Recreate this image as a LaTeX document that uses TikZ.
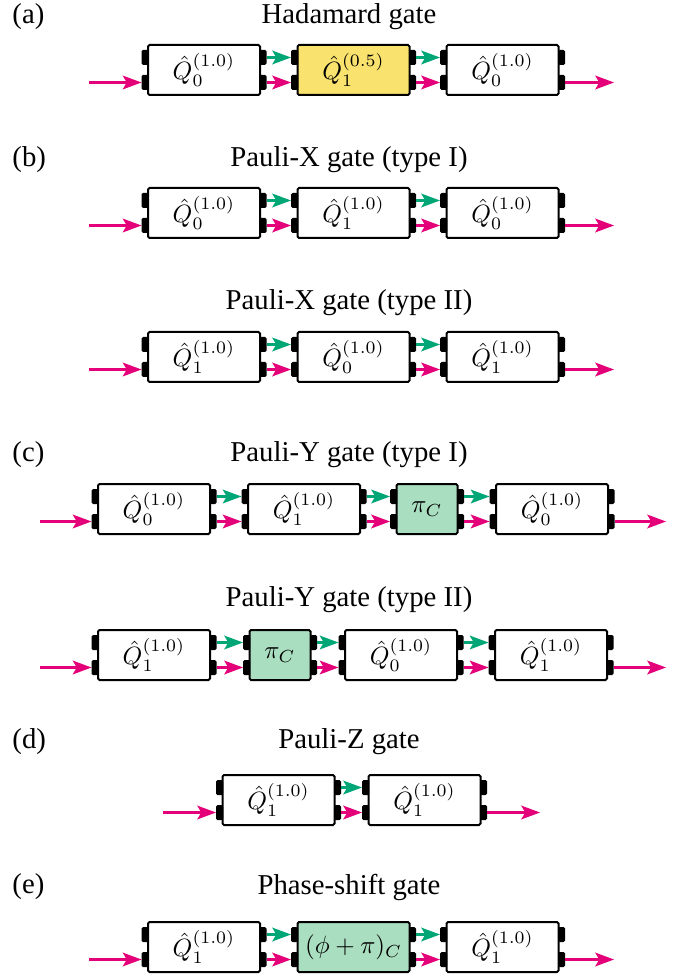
\documentclass[tikz,border=0pt]{standalone}
\usepackage[no-math]{fontspec}
\setmainfont{Liberation Serif}
\usetikzlibrary{calc,arrows.meta}
\definecolor{qgreen}{RGB}{0,166,118}
\definecolor{qmag}{RGB}{228,0,120}
\definecolor{qyellow}{RGB}{249,227,110}
\definecolor{qgfill}{RGB}{170,222,192}
\newcommand\mkgate[6]{%
  \node[gatebox, minimum width=#4*0.4pt, #5] (#1) at (#2,#3) {#6};
  \node[tab] (#1-lu) at ($(#1.west)+(-2,-12.5)$) {};
  \node[tab] (#1-ld) at ($(#1.west)+(-2,12.5)$) {};
  \node[tab] (#1-ru) at ($(#1.east)+(2,-12.5)$) {};
  \node[tab] (#1-rd) at ($(#1.east)+(2,12.5)$) {};
}
\newcommand\link[2]{%
  \draw[garr] (#1-ru) -- (#2-lu);
  \draw[marr] (#1-rd) -- (#2-ld);
}
\tikzset{
  gatebox/.style={draw, line width=0.8pt, rounded corners=0.6pt, minimum height=20pt, inner sep=0pt, fill=white},
  tab/.style={fill=black, minimum width=2.8pt, minimum height=6pt, inner sep=0pt, outer sep=0pt, rounded corners=0.6pt},
  garr/.style={qgreen, line width=0.85pt, -{Stealth[length=7.5pt,width=5.5pt,inset=1.6pt]}},
  marr/.style={qmag, line width=0.85pt, -{Stealth[length=7.5pt,width=5.5pt,inset=1.6pt]}},
  ttl/.style={font=\fontsize{11.5}{14}\selectfont, inner sep=0pt},
  lbl/.style={font=\fontsize{11.5}{14}\selectfont, inner sep=0pt, anchor=west},
}
\begin{document}
\begin{tikzpicture}[x=0.4pt,y=-0.4pt]
\useasboundingbox (0,0) rectangle (697,977);
% (a)
\node[lbl] (la) at (12,17) {(a)};
\node[ttl] (ta) at (349,17) {Hadamard gate};
\mkgate{a1}{204}{70}{112}{}{$\hat{Q}_0^{(1.0)}$}
\mkgate{a2}{353.5}{70}{112}{fill=qyellow}{$\hat{Q}_1^{(0.5)}$}
\mkgate{a3}{502.5}{70}{112}{}{$\hat{Q}_0^{(1.0)}$}
\coordinate (ain) at (89,82.5);
\coordinate (aout) at (614,82.5);
\draw[marr] (ain) -- (a1-ld);
\link{a1}{a2}\link{a2}{a3}
\draw[marr] (a3-rd) -- (aout);
% (b) type I
\node[lbl] (lb) at (12,160) {(b)};
\node[ttl] (tb) at (349,160) {Pauli-X gate (type I)};
\mkgate{b1}{204}{213}{112}{}{$\hat{Q}_0^{(1.0)}$}
\mkgate{b2}{353.5}{213}{112}{}{$\hat{Q}_1^{(1.0)}$}
\mkgate{b3}{502.5}{213}{112}{}{$\hat{Q}_0^{(1.0)}$}
\coordinate (bin) at (89,225.5);
\coordinate (bout) at (614,225.5);
\draw[marr] (bin) -- (b1-ld);
\link{b1}{b2}\link{b2}{b3}
\draw[marr] (b3-rd) -- (bout);
% (b) type II
\node[ttl] (tbb) at (349,303) {Pauli-X gate (type II)};
\mkgate{bb1}{204}{357}{112}{}{$\hat{Q}_1^{(1.0)}$}
\mkgate{bb2}{353.5}{357}{112}{}{$\hat{Q}_0^{(1.0)}$}
\mkgate{bb3}{502.5}{357}{112}{}{$\hat{Q}_1^{(1.0)}$}
\coordinate (bbin) at (89,369.5);
\coordinate (bbout) at (614,369.5);
\draw[marr] (bbin) -- (bb1-ld);
\link{bb1}{bb2}\link{bb2}{bb3}
\draw[marr] (bb3-rd) -- (bbout);
% (c) type I
\node[lbl] (lc) at (12,455) {(c)};
\node[ttl] (tc) at (349,455) {Pauli-Y gate (type I)};
\mkgate{c1}{154}{509}{112}{}{$\hat{Q}_0^{(1.0)}$}
\mkgate{c2}{304}{509}{112}{}{$\hat{Q}_1^{(1.0)}$}
\mkgate{c3}{427}{509}{61}{fill=qgfill}{$\pi_C$}
\mkgate{c4}{552}{509}{112}{}{$\hat{Q}_0^{(1.0)}$}
\coordinate (cin) at (40,521.5);
\coordinate (cout) at (666,521.5);
\draw[marr] (cin) -- (c1-ld);
\link{c1}{c2}\link{c2}{c3}\link{c3}{c4}
\draw[marr] (c4-rd) -- (cout);
% (c) type II
\node[ttl] (tcc) at (349,600) {Pauli-Y gate (type II)};
\mkgate{cc1}{154}{655}{112}{}{$\hat{Q}_1^{(1.0)}$}
\mkgate{cc2}{280}{655}{61}{fill=qgfill}{$\pi_C$}
\mkgate{cc3}{401}{655}{112}{}{$\hat{Q}_0^{(1.0)}$}
\mkgate{cc4}{551}{655}{112}{}{$\hat{Q}_1^{(1.0)}$}
\coordinate (ccin) at (40,667.5);
\coordinate (ccout) at (666,667.5);
\draw[marr] (ccin) -- (cc1-ld);
\link{cc1}{cc2}\link{cc2}{cc3}\link{cc3}{cc4}
\draw[marr] (cc4-rd) -- (ccout);
% (d)
\node[lbl] (ld) at (12,742) {(d)};
\node[ttl] (td) at (349,742) {Pauli-Z gate};
\mkgate{d1}{278.5}{800}{112}{}{$\hat{Q}_1^{(1.0)}$}
\mkgate{d2}{424.5}{800}{112}{}{$\hat{Q}_1^{(1.0)}$}
\coordinate (din) at (163,812.5);
\coordinate (dout) at (540,812.5);
\draw[marr] (din) -- (d1-ld);
\link{d1}{d2}
\draw[marr] (d2-rd) -- (dout);
% (e)
\node[lbl] (le) at (12,887) {(e)};
\node[ttl] (te) at (349,887) {Phase-shift gate};
\mkgate{e1}{204}{947}{112}{}{$\hat{Q}_1^{(1.0)}$}
\mkgate{e2}{353.5}{947}{112}{fill=qgfill}{$(\phi+\pi)_C$}
\mkgate{e3}{502.5}{947}{112}{}{$\hat{Q}_1^{(1.0)}$}
\coordinate (ein) at (89,959.5);
\coordinate (eout) at (614,959.5);
\draw[marr] (ein) -- (e1-ld);
\link{e1}{e2}\link{e2}{e3}
\draw[marr] (e3-rd) -- (eout);
\end{tikzpicture}
\end{document}
